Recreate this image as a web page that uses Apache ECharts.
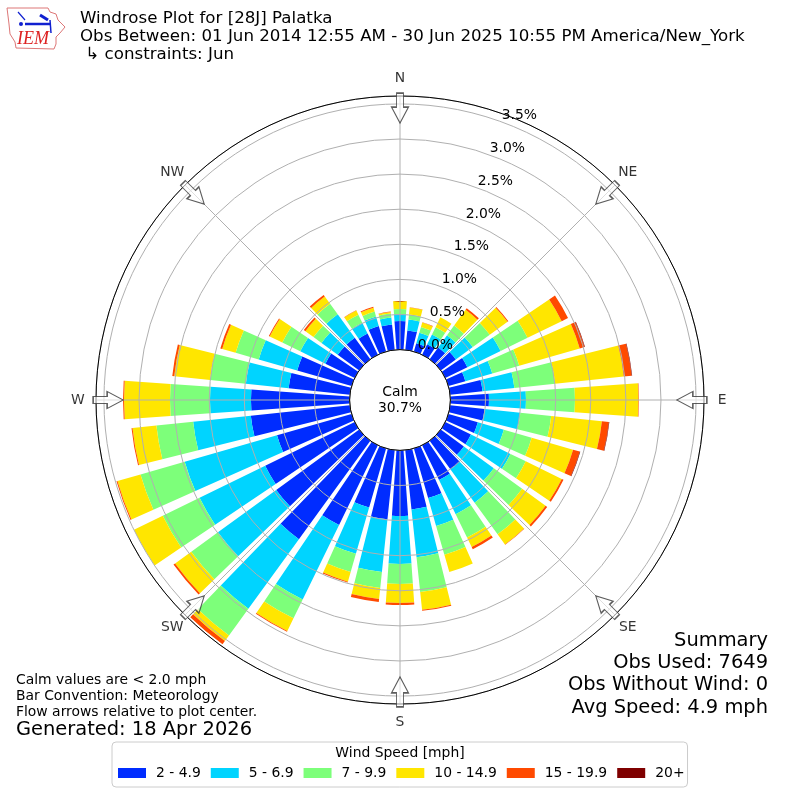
<!DOCTYPE html>
<html><head><meta charset="utf-8">
<style>html,body{margin:0;padding:0;background:#fff}#c{width:800px;height:800px}</style>
<script src="https://cdn.jsdelivr.net/npm/echarts@6/dist/echarts.min.js"></script>
</head><body><div id="c"></div>
<script>
const directions = ['0','10','20','30','40','50','60','70','80','90','100','110','120','130','140','150','160','170','180','190','200','210','220','230','240','250','260','270','280','290','300','310','320','330','340','350'];
const speedBins = ['2 - 4.9','5 - 6.9','7 - 9.9','10 - 14.9','15 - 19.9','20+'];
const binColors = ['#002cff','#00d4ff','#7dff7a','#ffe600','#ff4a00','#7f0000'];
const bin2to5 = [.407,.279,.123,.165,.208,.265,.350,.251,.464,.550,.493,.436,.407,.407,.507,.550,.735,.849,.934,.991,.877,1.262,1.732,1.462,1.419,1.105,1.419,1.405,.877,.806,.464,.379,.379,.336,.379,.365];
const bin5to7 = [.100,.157,.157,.157,.214,.299,.527,.399,.456,.527,.513,.385,.627,.527,.584,.541,.413,.684,.684,.755,.684,1.182,1.225,1.026,1.040,1.368,.826,.584,.613,.570,.399,.285,.413,.171,.142,.100];
const bin7to10 = [.071,.071,.085,.114,.171,.299,.427,.399,.584,.698,.442,.413,.242,.499,.556,.370,.427,.499,.285,.228,.271,.299,.470,.470,.584,.655,.527,.570,.513,.342,.285,.142,.185,.128,.071,.057];
const bin10to15 = [.114,.100,.064,.157,.278,.313,.541,.897,.983,.905,.726,.613,.570,.413,.178,.150,.256,.256,.271,.157,.142,.199,.100,.285,.456,.342,.342,.655,.513,.199,.199,.142,.128,.064,.057,.021];
const bin15to20 = [0,.004,.007,0,.028,.014,.100,.071,.114,.007,.100,.100,.028,.028,.007,.036,0,.014,.028,.043,.014,.014,.057,.028,0,.014,.014,.014,.028,.028,.014,.028,.028,.007,.014,.007];
const bin20up = [0,0,0,0,0,0,0,.007,.007,0,.007,.007,0,0,0,0,0,0,0,0,0,0,0,0,0,0,0,0,0,0,0,0,0,0,0,0];
const binValues = [bin2to5,bin5to7,bin7to10,bin10to15,bin15to20,bin20up];
const compassAngles = [0,45,90,135,180,225,270,315];
const compassNames = ['N','NE','E','SE','S','SW','W','NW'];
const titleLines = ['Windrose Plot for [28J] Palatka','Obs Between: 01 Jun 2014 12:55 AM - 30 Jun 2025 10:55 PM America/New_York',' \u21B3 constraints: Jun'];
const summaryLines = ['Summary','Obs Used: 7649','Obs Without Wind: 0','Avg Speed: 4.9 mph'];
const noteLines = ['Calm values are < 2.0 mph','Bar Convention: Meteorology','Flow arrows relative to plot center.'];
const generated = 'Generated: 18 Apr 2026';
const calmLines = ['Calm','30.7%'];
const legendTitle = 'Wind Speed [mph]';

const FONT = '"DejaVu Sans"';
const rMax = 3.613, arrowR = 3.44, labelR = 3.87;
const polarBox = {center:['50%','50%'], radius:[50.4,304]};
const chart = echarts.init(document.getElementById('c'),null,{renderer:'canvas'});
const txt = (x,y,text,size,extra) => ({type:'text',x,y,z:20,silent:true,style:Object.assign({text,fontFamily:FONT,fontSize:size,fill:'#000',textVerticalAlign:'middle',verticalAlign:'middle'},extra||{})});
const g = [];
titleLines.forEach((t,i)=>g.push(txt(80,19+18*i,t,16.67)));
summaryLines.forEach((t,i)=>g.push(txt(768,641+22.2*i,t,19.44,{align:'right',textAlign:'right'})));
noteLines.forEach((t,i)=>g.push(txt(16,680+16*i,t,13.9)));
g.push(txt(16,730,generated,19.44));
calmLines.forEach((t,i)=>g.push(txt(400,392+16*i,t,13.9,{align:'center',textAlign:'center'})));
g.push(txt(400,753.5,legendTitle,13.9,{align:'center',textAlign:'center'}));
// logo
g.push({type:'polygon',z:20,silent:true,shape:{points:[[7,8],[48,8],[50,12],[56,14],[58,20],[65,27],[60,33],[56,37],[56,44],[54,49],[16,48],[15,42],[10,34],[9,24]]},style:{fill:'#fff',stroke:'#d77',lineWidth:1}});
const blue='#1020d0';
[[[25,24],[50,24],2.5],[[18,12],[25,20],1.2],[[40,15],[48,20],3],[[50,20],[51,33],1.5]].forEach(l=>g.push({type:'line',z:21,silent:true,shape:{x1:l[0][0],y1:l[0][1],x2:l[1][0],y2:l[1][1]},style:{stroke:blue,lineWidth:l[2]}}));
g.push({type:'circle',z:21,silent:true,shape:{cx:21,cy:24,r:2},style:{fill:blue}});
g.push(txt(17,39,'IEM',18,{fontFamily:'"Liberation Serif"',fontStyle:'italic',fill:'#d22'}));

const series = speedBins.map((name,i)=>({
  name,type:'bar',coordinateSystem:'polar',polarIndex:0,stack:'wind',barWidth:'80%',
  itemStyle:{color:binColors[i]},data:binValues[i],silent:true,z:2
}));
series.push({
  type:'scatter',coordinateSystem:'polar',polarIndex:1,silent:true,z:6,
  symbol:'path://M-3.5,-15 L3.5,-15 L3.5,-1 L8.5,-1 L0,15 L-8.5,-1 L-3.5,-1 Z',symbolSize:[17,30],
  itemStyle:{color:'rgba(255,255,255,0.75)',borderColor:'#333',borderWidth:1.2},
  data:compassAngles.map(a=>({value:[arrowR,a],symbolRotate:-a}))
});
series.push({
  type:'scatter',coordinateSystem:'polar',polarIndex:1,silent:true,z:7,clip:false,
  symbolSize:1,itemStyle:{color:'rgba(0,0,0,0)'},
  label:{show:true,position:'inside',fontFamily:FONT,fontSize:13.9,color:'#000',formatter:p=>compassNames[p.dataIndex]},
  data:compassAngles.map(a=>[labelR,a])
});
chart.setOption({
  animation:false,backgroundColor:'#fff',
  polar:[polarBox,polarBox,polarBox],
  angleAxis:[
    {polarIndex:0,type:'category',data:directions,startAngle:95,clockwise:true,axisLine:{show:false},axisTick:{show:false},axisLabel:{show:false},splitLine:{show:false}},
    {polarIndex:1,type:'value',min:0,max:360,interval:45,startAngle:90,clockwise:true,z:4,
     axisLine:{show:true,lineStyle:{color:'#000',width:1}},axisTick:{show:false},axisLabel:{show:false},
     splitLine:{show:true,lineStyle:{color:'#b0b0b0',width:1}}},
    {polarIndex:2,type:'value',min:0,max:360,startAngle:70,clockwise:true,show:false}
  ],
  radiusAxis:[
    {polarIndex:0,type:'value',min:0,max:rMax,show:false},
    {polarIndex:1,type:'value',min:0,max:rMax,interval:0.5,z:3,
     axisLine:{show:false},axisTick:{show:false},axisLabel:{show:false},
     splitLine:{show:true,lineStyle:{color:'#b0b0b0',width:1}},splitArea:{show:false}},
    {polarIndex:2,type:'value',min:0,max:rMax,interval:0.5,z:5,
     axisLine:{show:false},axisTick:{show:false},splitLine:{show:false},splitArea:{show:false},
     axisLabel:{show:true,margin:-0.5,fontFamily:FONT,fontSize:13.9,color:'#000',align:'left',verticalAlign:'bottom',formatter:v=>v>3.55?'':v.toFixed(1)+'%'}}
  ],
  legend:{data:speedBins,left:112,top:742,icon:'rect',itemWidth:28,itemHeight:10,itemGap:10,
    padding:[24,3,7,6],borderColor:'#ccc',borderWidth:1,borderRadius:4,
    textStyle:{fontFamily:FONT,fontSize:13.9,color:'#000',padding:[0,0,0,5]}},
  graphic:g,
  series
});
</script></body></html>
